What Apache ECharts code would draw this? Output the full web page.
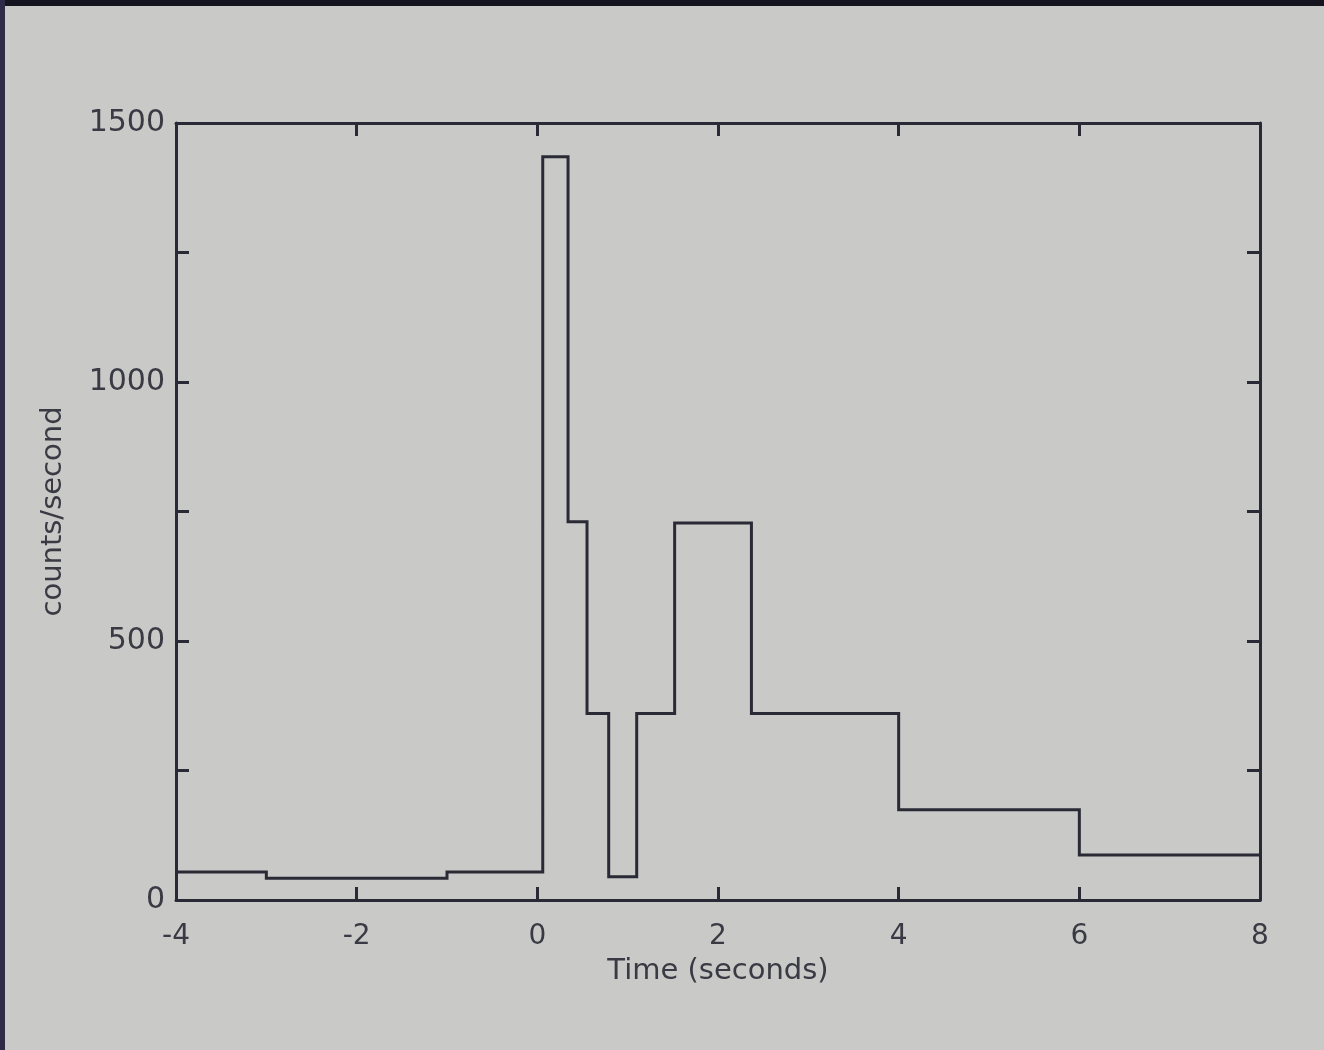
<!DOCTYPE html>
<html>
<head>
<meta charset="utf-8">
<title>counts/second vs time</title>
<script src="https://cdn.jsdelivr.net/npm/echarts@6/dist/echarts.min.js"></script>
<style>
  html, body { margin: 0; padding: 0; background: #c9c9c7; }
  #chart { width: 1324px; height: 1050px; }
</style>
</head>
<body>
<div id="chart"></div>
<script>
// Bin edges of the light curve (seconds) and the count rate in each bin
const binEdges = [-4, -3, -1, 0.06, 0.34, 0.55, 0.79, 1.10, 1.52, 2.37, 4.0, 6.0, 8.0];
const binRates = [54, 42, 54, 1435, 730, 360, 45, 360, 728, 360, 174, 87];

// Axis ticks
const xTicks = [-4, -2, 0, 2, 4, 6, 8];
const yTicks = [0, 500, 1000, 1500];

// Histogram as a stepped line: one point per left edge, plus the last right edge
const stepPoints = binRates.map((r, i) => [binEdges[i], r]);
stepPoints.push([binEdges[binEdges.length - 1], binRates[binRates.length - 1]]);

const ink = '#2a2a36';
const textInk = '#3a3a44';
const fontStack = "'DejaVu Sans', 'Liberation Sans', sans-serif";

const chart = echarts.init(document.getElementById('chart'), null, { renderer: 'canvas' });

const boxAxisX = {
  type: 'value',
  min: xTicks[0],
  max: xTicks[xTicks.length - 1],
  interval: 2,
  axisLine: { show: true, onZero: false, lineStyle: { color: ink, width: 3 } },
  axisTick: { show: true, inside: true, length: 13, lineStyle: { color: ink, width: 3 } },
  splitLine: { show: false }
};
const boxAxisY = {
  type: 'value',
  min: yTicks[0],
  max: yTicks[yTicks.length - 1],
  interval: 250,
  axisLine: { show: true, onZero: false, lineStyle: { color: ink, width: 3 } },
  axisTick: { show: true, inside: true, length: 13, lineStyle: { color: ink, width: 3 } },
  splitLine: { show: false }
};

chart.setOption({
  backgroundColor: '#c9c9c7',
  animation: false,
  grid: { left: 176, top: 123, right: 64, bottom: 150, containLabel: false },
  graphic: [
    { type: 'rect', left: 0, top: 0, shape: { width: 1324, height: 6 }, style: { fill: '#15151f' }, z: 100 },
    { type: 'rect', left: 0, top: 0, shape: { width: 5, height: 1050 }, style: { fill: '#2e2a48' }, z: 100 }
  ],
  xAxis: [
    Object.assign({}, boxAxisX, {
      position: 'bottom',
      name: 'Time (seconds)',
      nameLocation: 'middle',
      nameGap: 57,
      nameTextStyle: { fontFamily: fontStack, fontSize: 29, color: textInk },
      axisLabel: {
        show: true, margin: 23, fontFamily: fontStack, fontSize: 28, color: textInk,
        formatter: v => String(v)
      }
    }),
    Object.assign({}, boxAxisX, { position: 'top', axisLabel: { show: false } })
  ],
  yAxis: [
    Object.assign({}, boxAxisY, {
      position: 'left',
      name: 'counts/second',
      nameLocation: 'middle',
      nameGap: 108,
      nameRotate: 90,
      nameTextStyle: { fontFamily: fontStack, fontSize: 29, color: textInk },
      axisLabel: {
        show: true, margin: 11, fontFamily: fontStack, fontSize: 30, color: textInk,
        formatter: v => (yTicks.indexOf(v) >= 0 ? String(v) : '')
      }
    }),
    Object.assign({}, boxAxisY, { position: 'right', axisLabel: { show: false } })
  ],
  series: [{
    type: 'line',
    xAxisIndex: 0,
    yAxisIndex: 0,
    step: 'end',
    data: stepPoints,
    showSymbol: false,
    symbol: 'none',
    lineStyle: { color: ink, width: 3, join: 'miter' },
    z: 5
  }]
});
</script>
</body>
</html>
